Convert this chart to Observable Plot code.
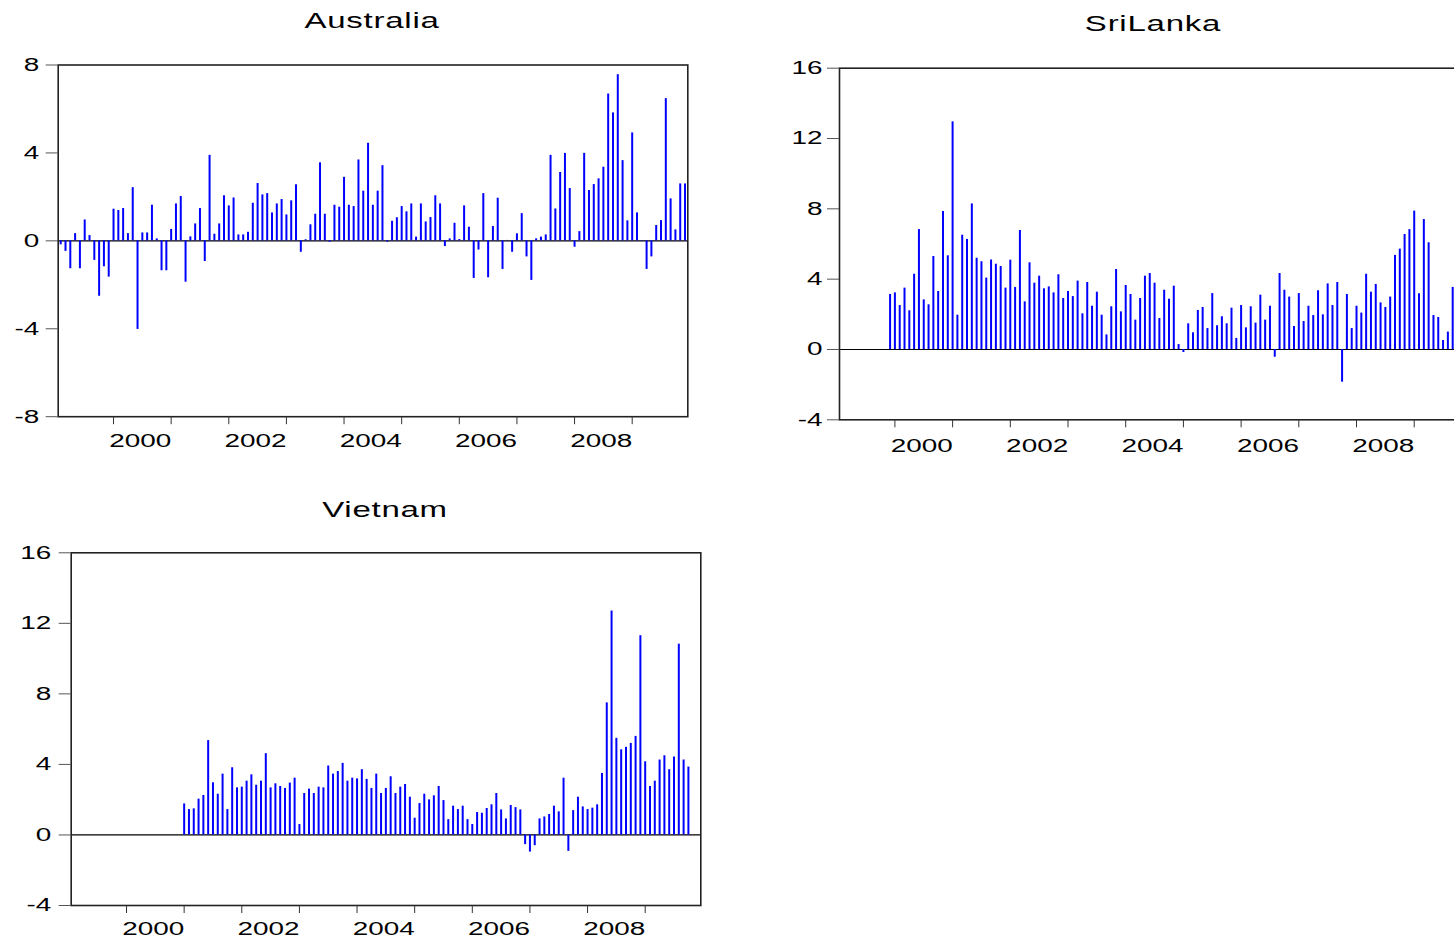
<!DOCTYPE html>
<html>
<head>
<meta charset="utf-8">
<script src="https://cdn.jsdelivr.net/npm/d3@7"></script>
<script src="https://cdn.jsdelivr.net/npm/@observablehq/plot@0.6"></script>
<style>
  html, body { margin: 0; padding: 0; background: #fff; }
  body { width: 1454px; height: 945px; position: relative; overflow: hidden; }
  .panel { position: absolute; }
  .panel svg { max-width: none !important; }
  .title { position: absolute; white-space: nowrap; font-family: "Liberation Sans", Arial, sans-serif;
           font-size: 22px; line-height: 22px; letter-spacing: 0.5px; color: #000;
           transform: translateX(-50%) scaleX(1.5); }
</style>
</head>
<body>
<script>
// ---- data (monthly observations) ----
const australiaStart = [1999, 2];   // Feb 1999
const australia = [
  -0.18,-0.48,-1.27,0.33,-1.27,0.95,0.24,-0.89,-2.52,-1.18,-1.65,
  1.44,1.38,1.47,0.33,2.42,-4.03,0.36,0.36,1.62,0.09,-1.36,-1.36,
  0.52,1.68,2.02,-1.88,0.18,0.77,1.47,-0.94,3.89,0.30,0.77,2.05,
  1.59,1.95,0.27,0.27,0.39,1.71,2.61,2.09,2.15,1.27,1.68,1.88,
  1.18,1.82,2.55,-0.52,0.05,0.73,1.21,3.55,1.21,-0.06,1.62,1.53,
  2.89,1.62,1.56,3.68,2.26,4.44,1.62,2.26,3.42,-0.06,0.89,1.05,
  1.56,1.32,1.68,0.17,1.68,0.86,1.06,2.05,1.68,-0.26,0.09,0.80,
  0.06,1.59,0.62,-1.71,-0.42,2.15,-1.68,0.65,1.94,-1.30,0.02,-0.52,
  0.32,1.24,-0.73,-1.80,0.09,0.17,0.27,3.89,1.45,3.11,3.98,2.38,
  -0.29,0.42,3.98,2.29,2.56,2.82,3.35,6.68,5.82,7.56,3.65,0.91,
  4.91,1.27,-0.02,-1.30,-0.73,0.70,0.92,6.47,1.91,0.50,2.59,2.59
];

const sriLankaStart = [1999, 12];   // Dec 1999
const sriLanka = [
  3.13,3.22,2.50,3.49,2.20,4.28,6.82,2.82,2.54,5.29,3.30,7.85,5.33,12.95,
  1.95,6.50,6.26,8.28,5.19,4.99,4.06,5.09,4.85,
  4.72,3.49,5.08,3.53,6.77,2.71,4.93,3.77,4.17,3.45,3.56,3.22,4.25,2.90,
  3.30,3.01,3.89,2.03,3.81,2.46,3.26,1.95,0.83,2.43,4.55,2.14,3.64,3.13,
  1.67,2.90,4.17,4.32,3.77,
  1.76,3.37,2.86,3.60,0.28,-0.17,1.46,0.95,2.22,2.39,1.19,3.18,1.35,1.86,
  1.46,2.35,0.63,2.50,1.23,2.43,1.50,3.09,1.67,2.46,-0.44,4.32,3.37,2.98,
  1.31,3.18,1.59,
  2.46,1.93,3.34,1.97,3.73,2.50,3.81,-1.86,3.13,1.19,2.46,2.07,4.28,3.26,
  3.70,2.65,2.39,2.98,5.35,5.71,6.54,6.82,7.87,3.17,7.39,6.07,1.93,1.82,
  0.51,0.99,3.53
];

const vietnamStart = [2001, 1];     // Jan 2001
const vietnam = [
  1.76,1.44,1.48,2.03,2.24,5.35,2.96,2.31,
  3.45,1.44,3.81,2.67,2.71,3.05,3.41,2.82,3.05,4.61,2.67,2.90,2.75,2.64,
  2.94,3.22,0.59,2.35,2.60,2.35,2.71,2.67,3.91,3.45,3.60,4.06,3.05,3.22,
  3.18,3.70,3.15,2.64,3.45,
  2.35,2.64,3.30,2.35,2.71,2.86,2.14,0.95,1.78,2.31,1.99,2.22,2.75,1.95,
  0.87,1.63,1.44,1.63,0.87,0.59,1.27,1.23,1.50,1.71,2.35,1.42,0.91,1.67,
  1.55,1.42,-0.55,-0.97,-0.61,
  0.91,1.02,1.16,1.63,1.31,3.22,-0.93,1.38,2.14,1.59,1.44,1.52,1.71,3.49,
  7.49,12.70,5.48,4.83,4.97,5.19,5.59,11.30,4.15,2.75,3.05,4.25,4.49,3.70,
  4.42,10.82,4.25,3.85
];

const yearTicks = [2000, 2001, 2002, 2003, 2004, 2005, 2006, 2007, 2008, 2009];
const yearLabels = ["2000", "2002", "2004", "2006", "2008"];
const yTicksAustralia = [-8, -4, 0, 4, 8];
const yTicksOther = [-4, 0, 4, 8, 12, 16];
const xDomain = [1999.04, 2009.965];

// ---- helpers ----
function toRows(start, values) {
  return values.map((v, i) => ({date: start[0] + (start[1] - 1 + i) / 12, v}));
}

function stretchText(svg, k) {
  svg.querySelectorAll("text").forEach(t => {
    const tr = t.getAttribute("transform");
    if (tr) {
      t.setAttribute("transform", tr + ` scale(${k},1)`);
    } else {
      const x = +t.getAttribute("x") || 0, y = +t.getAttribute("y") || 0;
      t.removeAttribute("x"); t.removeAttribute("y");
      t.setAttribute("transform", `translate(${x},${y}) scale(${k},1)`);
    }
  });
}

function panel({values, start, yDomain, yTicks, left, top, width, height, margins, yPad, xPad, title, titleX, titleTop}) {
  const rows = toRows(start, values);
  const chart = Plot.plot({
    width, height,
    marginLeft: margins[0], marginRight: margins[1], marginTop: margins[2], marginBottom: margins[3],
    style: {fontFamily: "Liberation Sans, Arial, sans-serif", fontSize: "18.6px", overflow: "visible",
            background: "transparent", maxWidth: "none"},
    x: {domain: xDomain},
    y: {domain: yDomain},
    marks: [
      Plot.ruleY([0], {stroke: "#000", strokeWidth: 1.2}),
      Plot.ruleX(rows, {x: "date", y1: d => 0, y2: "v", stroke: "#0000ff", strokeWidth: 2}),
      Plot.frame({stroke: "#222", strokeWidth: 1.6}),
      Plot.axisY({ticks: yTicks, tickSize: 12, tickPadding: yPad, tickFormat: d => String(d),
                  stroke: "#555", fontSize: 18.6, label: null}),
      Plot.axisX({ticks: yearTicks, tickSize: 8, tickFormat: () => "", stroke: "#333", label: null}),
      Plot.axisX({ticks: yearLabels.map(s => +s + 0.465), tickSize: 0, tickPadding: xPad,
                  tickFormat: d => String(Math.floor(d)), fontSize: 18.6, label: null})
    ]
  });
  chart.style.maxWidth = "none";
  chart.setAttribute("width", width);
  chart.setAttribute("height", height);
  stretchText(chart, 1.5);
  const wrap = document.createElement("div");
  wrap.className = "panel";
  wrap.style.left = left + "px";
  wrap.style.top = top + "px";
  wrap.style.width = width + "px";
  wrap.style.height = height + "px";
  wrap.appendChild(chart);
  document.body.appendChild(wrap);

  const t = document.createElement("div");
  t.className = "title";
  t.textContent = title;
  t.style.left = titleX + "px";
  t.style.top = titleTop + "px";
  document.body.appendChild(t);
}

panel({values: australia, start: australiaStart, yDomain: [-8, 8], yTicks: yTicksAustralia,
       left: 0, top: 0, width: 700, height: 470, margins: [57.7, 12.7, 64.5, 53.8], yPad: 7, xPad: 17,
       title: "Australia", titleX: 372, titleTop: 10});

panel({values: sriLanka, start: sriLankaStart, yDomain: [-4, 16], yTicks: yTicksOther,
       left: 780, top: 0, width: 700, height: 470, margins: [59, 10.6, 67.7, 50.7], yPad: 5, xPad: 18.5,
       title: "SriLanka", titleX: 1153, titleTop: 13});

panel({values: vietnam, start: vietnamStart, yDomain: [-4, 16], yTicks: yTicksOther,
       left: 0, top: 490, width: 720, height: 470, margins: [70.7, 19.7, 62.3, 55], yPad: 8, xPad: 16,
       title: "Vietnam", titleX: 385, titleTop: 499});
</script>
</body>
</html>
